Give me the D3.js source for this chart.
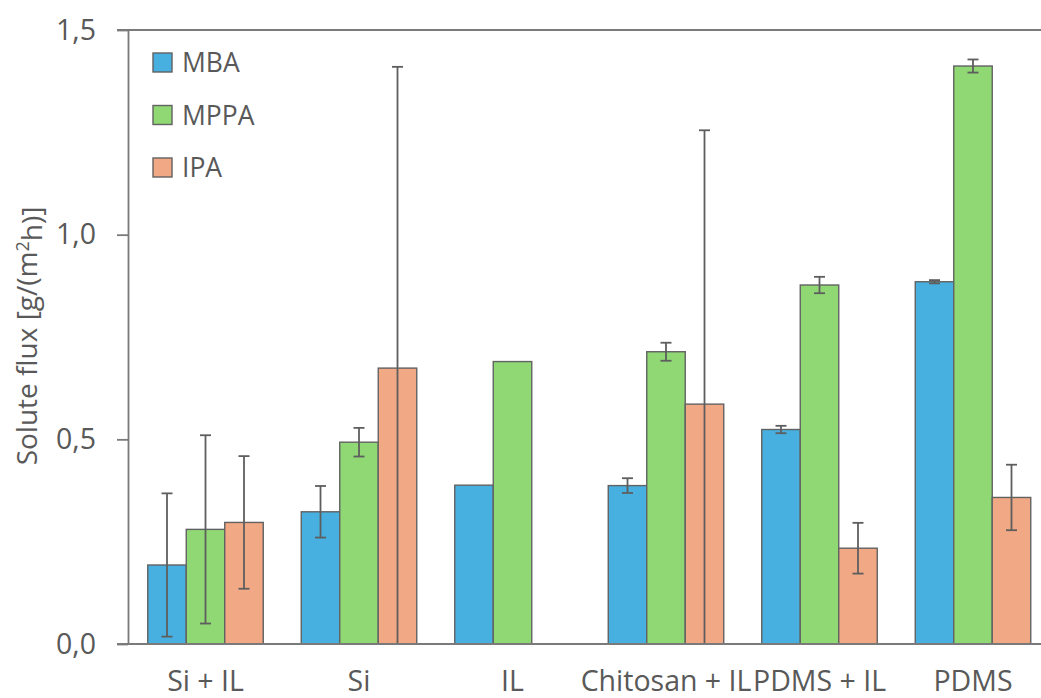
<!DOCTYPE html>
<html>
<head>
<meta charset="utf-8">
<script src="https://cdn.jsdelivr.net/npm/d3@7/dist/d3.min.js"></script>
<style>
  html, body { margin: 0; padding: 0; background: #fff; overflow: hidden; }
  svg { display: block; font-family: "Open Sans", "Noto Sans", sans-serif; }
</style>
</head>
<body>
<svg id="chart" width="1041" height="698"></svg>
<script>
// Membrane types on the x axis
const categories = ["Si + IL", "Si", "IL", "Chitosan + IL", "PDMS + IL", "PDMS"];
// Solutes shown as grouped bars
const seriesNames = ["MBA", "MPPA", "IPA"];
const seriesColors = ["#47B0E0", "#8FD874", "#F1A884"];

// Solute flux in g/(m²h); null = not measured
const mbaFlux  = [0.193, 0.323, 0.388, 0.387, 0.524, 0.885];
const mppaFlux = [0.280, 0.493, 0.690, 0.714, 0.877, 1.412];
const ipaFlux  = [0.297, 0.674, null, 0.586, 0.234, 0.358];

// Standard deviations (error bars); null = no error bar
const mbaErr  = [0.175, 0.063, null, 0.018, 0.009, 0.004];
const mppaErr = [0.230, 0.035, null, 0.022, 0.020, 0.016];
const ipaErr  = [0.162, 0.736, null, 0.669, 0.062, 0.080];

const yTicks = [0, 0.5, 1.0, 1.5];

const values = [mbaFlux, mppaFlux, ipaFlux];
const errors = [mbaErr, mppaErr, ipaErr];

const svg = d3.select("#chart");
const W = 1041;
const textColor = "#595959";
const axisColor = "#7a7a7a";
const barStroke = "#626262";
const labelSize = "28.5px";

const y = d3.scaleLinear().domain([0, 1.5]).range([644, 30]);
const x0 = d3.scaleBand()
  .domain(categories)
  .range([128.75, 1049.75])
  .paddingInner(0.2476)
  .paddingOuter(0.1238);
const x1 = d3.scaleBand().domain(seriesNames).range([0, x0.bandwidth()]);

// Bars and error bars
const rows = [];
categories.forEach((c, i) => {
  seriesNames.forEach((s, k) => {
    if (values[k][i] != null) {
      rows.push({ cat: c, series: s, k, v: values[k][i], e: errors[k][i] });
    }
  });
});

const g = svg.append("g");

g.selectAll("rect.bar")
  .data(rows)
  .join("rect")
  .attr("class", "bar")
  .attr("x", d => x0(d.cat) + x1(d.series))
  .attr("y", d => y(d.v))
  .attr("width", x1.bandwidth())
  .attr("height", d => y(0) - y(d.v))
  .attr("fill", d => seriesColors[d.k])
  .attr("stroke", barStroke)
  .attr("stroke-width", 1.4);

const eb = g.selectAll("g.err")
  .data(rows.filter(d => d.e != null))
  .join("g")
  .attr("class", "err")
  .attr("stroke", "#5e5e5e")
  .attr("stroke-width", 1.8);

const cx = d => x0(d.cat) + x1(d.series) + x1.bandwidth() / 2;
const capW = 5.5;

eb.append("line")
  .attr("x1", cx).attr("x2", cx)
  .attr("y1", d => y(d.v + d.e))
  .attr("y2", d => y(Math.max(0, d.v - d.e)));
eb.append("line")
  .attr("x1", d => cx(d) - capW).attr("x2", d => cx(d) + capW)
  .attr("y1", d => y(d.v + d.e)).attr("y2", d => y(d.v + d.e));
eb.filter(d => d.v - d.e >= 0).append("line")
  .attr("x1", d => cx(d) - capW).attr("x2", d => cx(d) + capW)
  .attr("y1", d => y(d.v - d.e)).attr("y2", d => y(d.v - d.e));

// Y axis
const yAxis = d3.axisLeft(y)
  .tickValues(yTicks)
  .tickFormat(d => d3.format(".1f")(d).replace(".", ","))
  .tickSize(11)
  .tickSizeOuter(0)
  .tickPadding(21);

const ya = svg.append("g").attr("transform", "translate(128,0)").call(yAxis);
ya.select(".domain").attr("stroke", axisColor).attr("stroke-width", 1.8);
ya.selectAll(".tick line").attr("stroke", axisColor).attr("stroke-width", 1.8);
ya.selectAll(".tick text")
  .attr("fill", textColor)
  .style("font-size", labelSize)
  .style("font-family", "'Open Sans', sans-serif");

// Full-width lines at the bottom and top of the value range
svg.selectAll("line.hline")
  .data([0, 1.5])
  .join("line")
  .attr("class", "hline")
  .attr("x1", 117).attr("x2", W)
  .attr("y1", d => y(d)).attr("y2", d => y(d))
  .attr("stroke", axisColor)
  .attr("stroke-width", 1.8);

// X axis labels
const xAxis = d3.axisBottom(x0).tickSize(0).tickPadding(27);
const xa = svg.append("g").attr("transform", `translate(0,${y(0)})`).call(xAxis);
xa.select(".domain").remove();
xa.selectAll(".tick text")
  .attr("fill", textColor)
  .style("font-size", labelSize)
  .style("font-family", "'Open Sans', sans-serif");

// Y axis title
const title = svg.append("text")
  .attr("transform", "translate(37,336) rotate(-90)")
  .attr("text-anchor", "middle")
  .attr("fill", textColor)
  .style("font-size", "28px");
title.append("tspan").text("Solute flux [g/(m");
title.append("tspan").attr("dy", "-0.45em").style("font-size", "18px").text("2");
title.append("tspan").attr("dy", "0.45em").text("h)]");

// Legend
const legend = svg.append("g");
const li = legend.selectAll("g")
  .data(seriesNames)
  .join("g")
  .attr("transform", (d, i) => `translate(153,${53 + i * 52.5})`);
li.append("rect")
  .attr("width", 19).attr("height", 19)
  .attr("fill", (d, i) => seriesColors[i])
  .attr("stroke", barStroke)
  .attr("stroke-width", 1.4);
li.append("text")
  .attr("x", 29).attr("y", 9.5).attr("dy", "0.36em")
  .attr("fill", textColor)
  .style("font-size", "26.5px")
  .text(d => d);
</script>
</body>
</html>
